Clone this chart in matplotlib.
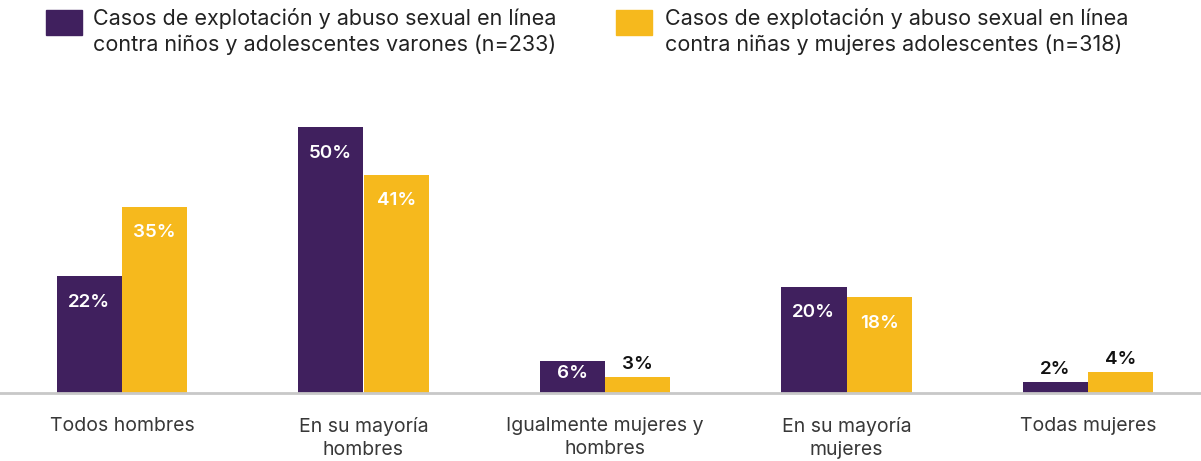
import numpy as np
import matplotlib.pyplot as plt
from matplotlib.patches import Rectangle

categories = ["Todos hombres", "En su mayoría\nhombres", "Igualmente mujeres y\nhombres",
              "En su mayoría\nmujeres", "Todas mujeres"]
varones = [22, 50, 6, 20, 2]
mujeres = [35, 41, 3, 18, 4]
series_labels = ["Casos de explotación y abuso sexual en línea\ncontra niños y adolescentes varones (n=233)",
                 "Casos de explotación y abuso sexual en línea\ncontra niñas y mujeres adolescentes (n=318)"]

purple = "#40205E"
yellow = "#F6B91D"

plt.rcParams['font.family'] = ['Inter', 'DejaVu Sans']

W, H = 1201, 461
fig = plt.figure(figsize=(W / 100, H / 100), dpi=100)
ax = fig.add_axes([0, (H - 393) / H, 1, 292.6 / H])

x = np.arange(len(categories))
w = 0.271
b1 = ax.bar(x - w / 2, varones, w, color=purple)
b2 = ax.bar(x + w / 2, mujeres, w, color=yellow)

ax.set_xlim(-122 / 241.5, (W - 122) / 241.5)
ax.set_ylim(0, 55)

for bars, vals in [(b1, varones), (b2, mujeres)]:
    for bar, v in zip(bars, vals):
        cx = bar.get_x() + bar.get_width() / 2
        if v >= 10:
            ax.text(cx, v - 4.9, f"{v}%", ha="center", va="center", color="white",
                    fontsize=13.5, fontweight="semibold")
        elif v >= 5:
            ax.text(cx, v * 0.6, f"{v}%", ha="center", va="center", color="white",
                    fontsize=13.5, fontweight="semibold")
        else:
            ax.annotate(f"{v}%", (cx, v), xytext=(0, 3), textcoords="offset points",
                        ha="center", va="bottom", color="#111111",
                        fontsize=13.5, fontweight="semibold")

ax.set_xticks(x)
ax.set_xticklabels(categories, fontsize=14, color="#383838", linespacing=1.38, va="top")
ax.tick_params(axis="x", length=0, pad=17)
ax.set_yticks([])
for s in ["top", "left", "right"]:
    ax.spines[s].set_visible(False)
ax.spines["bottom"].set_color("#c8c8c8")
ax.spines["bottom"].set_linewidth(2)

# legend drawn in figure pixels
for (sx, tx), col, lab in zip([(46, 93), (616, 665)], [purple, yellow], series_labels):
    fig.patches.append(Rectangle((sx / W, 1 - 35 / H), 36 / W, 25 / H,
                                 transform=fig.transFigure, color=col))
    fig.text(tx / W, 1 - 8 / H, lab, ha="left", va="top", fontsize=15.5,
             color="#222222", linespacing=1.33)

fig.savefig("out.png", dpi=100)
